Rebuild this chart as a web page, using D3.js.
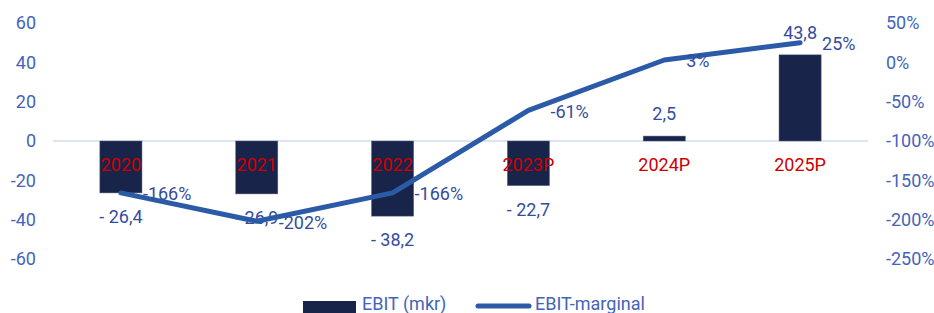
<!DOCTYPE html>
<html>
<head>
<meta charset="utf-8">
<script src="https://cdn.jsdelivr.net/npm/d3@7"></script>
<style>
	body { margin: 0; background: #fff; }
	svg { display: block; font-family: Roboto, "Noto Sans", sans-serif; }
</style>
</head>
<body>
<svg id="chart" width="934" height="313"></svg>
<script>
var categories = ["2020", "2021", "2022", "2023P", "2024P", "2025P"];
var ebit = [-26.4, -26.9, -38.2, -22.7, 2.5, 43.8];
var ebitLabels = ["- 26,4", "- 26,9", "- 38,2", "- 22,7", "2,5", "43,8"];
var margin = [-166, -202, -166, -61, 3, 25];
var leftTicks = [60, 40, 20, 0, -20, -40, -60];
var rightTicks = [50, 0, -50, -100, -150, -200, -250];

var svg = d3.select("#chart"),
	width = 934,
	height = 313;

var barColor = "#19244a",
	lineColor = "#2b5ba6",
	axisText = "#4464ba",
	labelText = "#354c9e",
	catText = "#cc0000";

var x = d3.scaleBand()
	.domain(categories)
	.range([53, 868])
	.paddingInner(0.69)
	.paddingOuter(0.345);

var yLeft = d3.scaleLinear().domain([-60, 60]).range([259, 23]);
var yRight = d3.scaleLinear().domain([-250, 50]).range([259, 23]);

function cx(c) { return x(c) + x.bandwidth() / 2; }

// axes (labels only, no lines)
var leftAxis = svg.append("g")
	.attr("transform", "translate(36,0)")
	.call(d3.axisLeft(yLeft).tickValues(leftTicks).tickSize(0).tickPadding(0)
		.tickFormat(function(d) { return d; }));
var rightAxis = svg.append("g")
	.attr("transform", "translate(886,0)")
	.call(d3.axisRight(yRight).tickValues(rightTicks).tickSize(0).tickPadding(0)
		.tickFormat(function(d) { return d + "%"; }));
[leftAxis, rightAxis].forEach(function(a) {
	a.select(".domain").remove();
	a.selectAll("text")
		.attr("fill", axisText)
		.style("font-size", "18px")
		.style("font-family", "Roboto, sans-serif");
});

// zero line
svg.append("line")
	.attr("x1", 53).attr("x2", 868)
	.attr("y1", yLeft(0)).attr("y2", yLeft(0))
	.attr("stroke", "#d3dbef")
	.attr("stroke-width", 1.5);

// bars
svg.append("g").selectAll("rect")
	.data(categories)
	.enter().append("rect")
	.attr("x", function(c) { return x(c); })
	.attr("width", x.bandwidth())
	.attr("y", function(c, i) { return yLeft(Math.max(0, ebit[i])); })
	.attr("height", function(c, i) { return Math.abs(yLeft(ebit[i]) - yLeft(0)); })
	.attr("fill", barColor)
	.attr("stroke", "#5a6480")
	.attr("stroke-width", 0.5);

// category labels
svg.append("g").selectAll("text")
	.data(categories)
	.enter().append("text")
	.attr("x", cx)
	.attr("y", yLeft(0) + 30)
	.attr("text-anchor", "middle")
	.attr("fill", catText)
	.style("font-size", "18px")
	.text(function(c) { return c; });

// bar value labels
svg.append("g").selectAll("text")
	.data(categories)
	.enter().append("text")
	.attr("x", cx)
	.attr("y", function(c, i) {
		return ebit[i] < 0 ? yLeft(ebit[i]) + 24 : yLeft(ebit[i]) - 22;
	})
	.attr("dy", "0.35em")
	.attr("text-anchor", "middle")
	.attr("fill", labelText)
	.style("font-size", "18px")
	.text(function(c, i) { return ebitLabels[i]; });

// margin line
var line = d3.line()
	.x(function(d, i) { return cx(categories[i]); })
	.y(function(d) { return yRight(d); });
svg.append("path")
	.datum(margin)
	.attr("d", line)
	.attr("fill", "none")
	.attr("stroke", lineColor)
	.attr("stroke-width", 5)
	.attr("stroke-linecap", "round")
	.attr("stroke-linejoin", "round");

// margin labels
svg.append("g").selectAll("text")
	.data(margin)
	.enter().append("text")
	.attr("x", function(d, i) { return cx(categories[i]) + 22; })
	.attr("y", function(d) { return yRight(d) + 1; })
	.attr("dy", "0.35em")
	.attr("fill", labelText)
	.style("font-size", "18px")
	.text(function(d) { return d + "%"; });

// legend
var legend = svg.append("g");
legend.append("rect")
	.attr("x", 303).attr("y", 301)
	.attr("width", 53).attr("height", 14)
	.attr("fill", barColor);
legend.append("text")
	.attr("x", 362).attr("y", 310)
	.attr("fill", axisText)
	.style("font-size", "18px")
	.text("EBIT (mkr)");
legend.append("line")
	.attr("x1", 478).attr("x2", 529)
	.attr("y1", 306).attr("y2", 306)
	.attr("stroke", lineColor)
	.attr("stroke-width", 5)
	.attr("stroke-linecap", "round");
legend.append("text")
	.attr("x", 535).attr("y", 310)
	.attr("fill", axisText)
	.style("font-size", "18px")
	.text("EBIT-marginal");
</script>
</body>
</html>
